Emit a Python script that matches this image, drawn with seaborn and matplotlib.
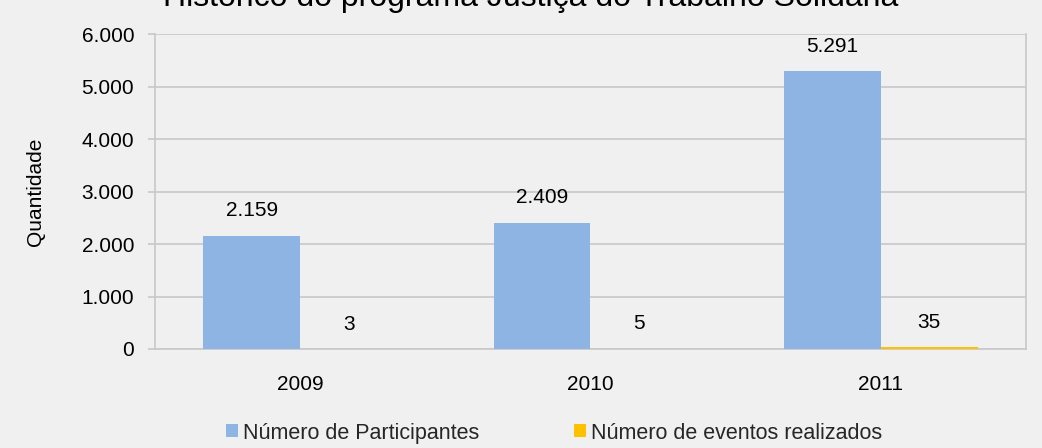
import pandas as pd
import matplotlib.pyplot as plt
import seaborn as sns
from matplotlib.patches import Patch
from matplotlib.ticker import FuncFormatter, FixedLocator

# Dados do gráfico
anos = ['2009', '2010', '2011']
participantes = [2159, 2409, 5291]
eventos = [3, 5, 35]
series = ['Número de Participantes', 'Número de eventos realizados']
cores = ['#8EB4E3', '#FFC000']

df = pd.DataFrame({
    'Ano': anos * 2,
    'Valor': participantes + eventos,
    'Serie': [series[0]] * 3 + [series[1]] * 3,
})

sns.set_style('white')
plt.rcParams['font.family'] = ['Liberation Sans', 'DejaVu Sans']
fs = 15

fig = plt.figure(figsize=(10.42, 4.48), dpi=100, facecolor='#F0F0F0')
ax = fig.add_axes([155 / 1042, 1 - 349 / 448, (1026 - 155) / 1042, (349 - 34) / 448])
ax.set_facecolor('#F0F0F0')

sns.barplot(data=df, x='Ano', y='Valor', hue='Serie', palette=cores,
            width=0.667, saturation=1, linewidth=0, ax=ax, legend=False, zorder=3)

def milhar(v):
    return f'{int(v):,}'.replace(',', '.')

for cont in ax.containers:
    ax.bar_label(cont, labels=[milhar(b.get_height()) for b in cont],
                 padding=11, fontsize=fs, color='black')

ax.set_ylim(0, 6000)
ax.set_xlim(-0.5, 2.5)
ax.set_yticks(range(0, 6001, 1000))
ax.yaxis.set_major_formatter(FuncFormatter(lambda v, p: milhar(v)))
ax.yaxis.grid(True, color='#C8C8C8', linewidth=1.2, zorder=0)
ax.set_axisbelow(True)

ax.xaxis.set_minor_locator(FixedLocator([0.5, 1.5, 2.5]))
ax.tick_params(axis='x', which='major', length=0, pad=19, labelsize=fs, labelcolor='black')
ax.tick_params(axis='x', which='minor', length=7, width=1.2, color='#C8C8C8', direction='out')
ax.tick_params(axis='y', length=5, width=1.2, color='#C8C8C8', direction='out',
               labelsize=fs, labelcolor='black', pad=10, left=True)

for s in ['left', 'bottom', 'right']:
    ax.spines[s].set_visible(True)
    ax.spines[s].set_color('#C8C8C8')
    ax.spines[s].set_linewidth(1.2)
ax.spines['top'].set_visible(False)

ax.set_xlabel('')
ax.set_ylabel('Quantidade', fontsize=fs, color='black', labelpad=26)

# título cortado no topo, como na imagem original
fig.text(531 / 1042, 1 - 6 / 448, 'Histórico do programa Justiça do Trabalho Solidária',
         ha='center', va='baseline', fontsize=23, color='black')

handles = [Patch(facecolor=c, edgecolor='none') for c in cores]
fig.legend(handles, series, loc='center', bbox_to_anchor=(554 / 1042, 1 - 433 / 448),
           ncol=2, frameon=False, fontsize=15.5, handlelength=0.55, handleheight=0.55,
           handletextpad=0.25, columnspacing=4.4)

fig.savefig('out.png', dpi=100, facecolor=fig.get_facecolor())
